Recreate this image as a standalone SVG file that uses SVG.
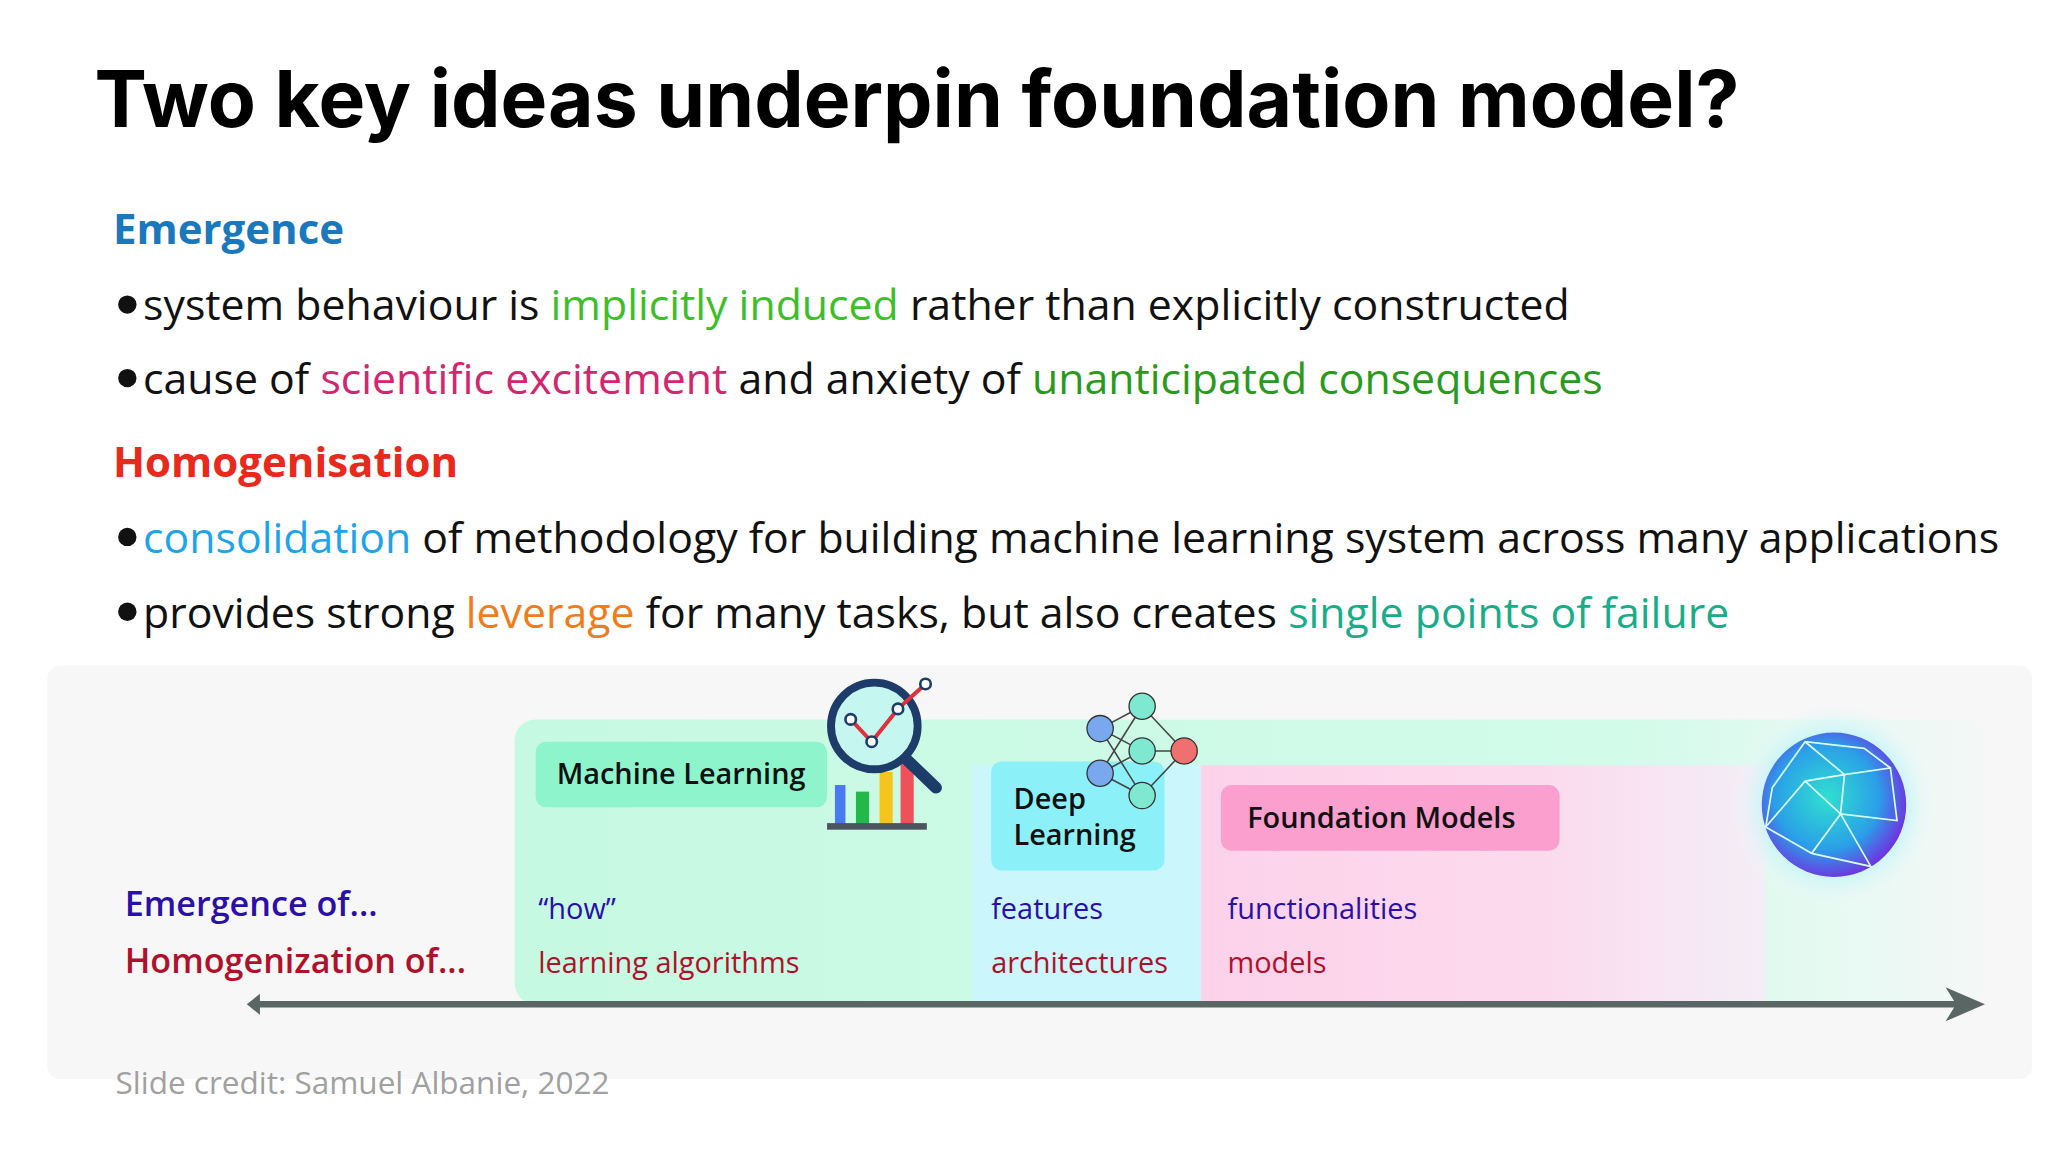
<svg xmlns="http://www.w3.org/2000/svg" width="2048" height="1152" viewBox="0 0 2048 1152">
<style>
.b{font-family:"Open Sans","Noto Sans",sans-serif;font-size:32.6px;fill:#111}
.p{font-family:"Open Sans","Noto Sans",sans-serif;font-size:24px}
.h{font-family:"Open Sans","Noto Sans",sans-serif;font-size:32px;font-weight:bold}
.lb{font-family:"Open Sans","Noto Sans",sans-serif;font-size:22px;font-weight:600;fill:#111}
</style>
<defs>
<linearGradient id="gg" x1="0" x2="1"><stop offset="0" stop-color="#c6f9e2"/><stop offset="0.75" stop-color="#d2fbea"/><stop offset="1" stop-color="#f4f8f7"/></linearGradient>
<linearGradient id="pg" x1="0" x2="1"><stop offset="0" stop-color="#fcd2ea"/><stop offset="0.6" stop-color="#fcdaee"/><stop offset="1" stop-color="#f3eef6"/></linearGradient>
<linearGradient id="cg" x1="0" x2="1"><stop offset="0" stop-color="#cbf6fb"/><stop offset="0.8" stop-color="#cbf6fb"/><stop offset="1" stop-color="#d6f8f0"/></linearGradient>
<radialGradient id="gl" cx="0.45" cy="0.45" r="0.6"><stop offset="0" stop-color="#30e0d0"/><stop offset="0.6" stop-color="#2a9fe8"/><stop offset="1" stop-color="#7a22e0"/></radialGradient>
<radialGradient id="halo"><stop offset="0.6" stop-color="#b8f4fa"/><stop offset="1" stop-color="#f7f7f7" stop-opacity="0"/></radialGradient>
</defs>
<rect width="2048" height="1152" fill="#fff"/>
<g transform="scale(1.3128)">
<g id="title"><text x="72" y="97" font-family="Inter,'Liberation Sans',sans-serif" font-weight="bold" font-size="60" textLength="1253" lengthAdjust="spacingAndGlyphs" fill="#000">Two key ideas underpin foundation model?</text></g>
<g id="bullets">
<text x="86" y="186" class="h" fill="#1a78bd">Emergence</text>
<circle cx="97" cy="232" r="7" fill="#111"/><circle cx="97" cy="288" r="7" fill="#111"/><circle cx="97" cy="409" r="7" fill="#111"/><circle cx="97" cy="466" r="7" fill="#111"/>
<text x="109" y="244" class="b">system behaviour is <tspan fill="#3cbf2a">implicitly induced</tspan> rather than explicitly constructed</text>
<text x="109" y="300" class="b">cause of <tspan fill="#d4266e">scientific excitement</tspan> and anxiety of <tspan fill="#2a9a1c">unanticipated consequences</tspan></text>
<text x="86" y="363" class="h" fill="#e8291c">Homogenisation</text>
<text x="109" y="421" class="b"><tspan fill="#1ea4ea">consolidation</tspan> of methodology for building machine learning system across many applications</text>
<text x="109" y="478" class="b">provides strong <tspan fill="#f07d1a">leverage</tspan> for many tasks, but also creates <tspan fill="#18ad8a">single points of failure</tspan></text>
</g>
<g id="panel">
<rect x="36" y="507" width="1512" height="315" rx="10" fill="#f7f7f7"/>
<rect x="392" y="548" width="1120" height="217" rx="16" fill="url(#gg)"/>
<rect x="740" y="583" width="605" height="182" fill="url(#cg)"/>
<rect x="915" y="583" width="430" height="182" fill="url(#pg)"/>
</g>
<g id="ml"><rect x="408" y="565" width="222" height="50" rx="8" fill="#8ef4cc"/><text x="424" y="597" class="lb">Machine Learning</text>
<rect x="636" y="598" width="8" height="30" fill="#4a7af0"/><rect x="652" y="603" width="10" height="25" fill="#22b84a"/><rect x="670" y="588" width="10" height="40" fill="#f6c51c"/><rect x="686" y="582" width="10" height="46" fill="#f0505a"/><rect x="630" y="627" width="76" height="5" fill="#4a5560"/>
<line x1="690" y1="578" x2="713" y2="600" stroke="#1d3c6a" stroke-width="9" stroke-linecap="round"/>
<circle cx="666" cy="553" r="33" fill="#c6f6f0" stroke="#1d3c6a" stroke-width="6"/>
<polyline points="648,548 664,565 684,540 705,521" fill="none" stroke="#e0303a" stroke-width="3"/>
<circle cx="648" cy="548" r="4" fill="#fff" stroke="#1d3c6a" stroke-width="2"/><circle cx="664" cy="565" r="4" fill="#fff" stroke="#1d3c6a" stroke-width="2"/><circle cx="684" cy="540" r="4" fill="#fff" stroke="#1d3c6a" stroke-width="2"/><circle cx="705" cy="521" r="4" fill="#fff" stroke="#1d3c6a" stroke-width="2"/></g>
<g id="dl"><rect x="755" y="580" width="132" height="83" rx="8" fill="#8cf0f8"/><text x="772" y="616" class="lb">Deep</text><text x="772" y="644" class="lb">Learning</text>
<g stroke="#444" stroke-width="1.2"><line x1="838" y1="555" x2="870" y2="538"/><line x1="838" y1="555" x2="870" y2="572"/><line x1="838" y1="589" x2="870" y2="572"/><line x1="838" y1="589" x2="870" y2="606"/><line x1="838" y1="555" x2="870" y2="606"/><line x1="838" y1="589" x2="870" y2="538"/><line x1="870" y1="538" x2="902" y2="572"/><line x1="870" y1="572" x2="902" y2="572"/><line x1="870" y1="606" x2="902" y2="572"/></g>
<circle cx="838" cy="555" r="10" fill="#7aa8ee" stroke="#333"/><circle cx="838" cy="589" r="10" fill="#7aa8ee" stroke="#333"/><circle cx="870" cy="538" r="10" fill="#7ee8d0" stroke="#333"/><circle cx="870" cy="572" r="10" fill="#7ee8d0" stroke="#333"/><circle cx="870" cy="606" r="10" fill="#7ee8d0" stroke="#333"/><circle cx="902" cy="572" r="10" fill="#f07070" stroke="#333"/></g>
<g id="fm"><rect x="930" y="598" width="258" height="50" rx="8" fill="#fa9fce"/><text x="950" y="631" class="lb">Foundation Models</text></g>
<g id="globe"><circle cx="1397" cy="613" r="80" fill="url(#halo)"/><circle cx="1397" cy="613" r="55" fill="url(#gl)"/>
<g stroke="#d8fff4" stroke-width="1.3" fill="none"><polyline points="1375,565 1405,590 1440,585 1445,625 1402,620 1380,650 1345,630 1375,595 1405,590 1402,620 1425,660 1380,650"/><polyline points="1345,630 1350,600 1375,565 1420,570 1440,585"/><line x1="1375" y1="595" x2="1402" y2="620"/></g></g>
<g id="labels">
<text x="95" y="698" font-family="'Open Sans',sans-serif" font-size="26" font-weight="600" fill="#2a10a8">Emergence of...</text>
<text x="95" y="741" font-family="'Open Sans',sans-serif" font-size="26" font-weight="600" fill="#b0112a">Homogenization of...</text>
<g font-family="'Open Sans',sans-serif" font-size="22"><text x="410" y="700" fill="#2a10a8">“how”</text><text x="755" y="700" fill="#2a10a8">features</text><text x="935" y="700" fill="#2a10a8">functionalities</text>
<text x="410" y="741" fill="#b0112a">learning algorithms</text><text x="755" y="741" fill="#b0112a">architectures</text><text x="935" y="741" fill="#b0112a">models</text></g>
</g>
<g id="connectors"><line x1="196" y1="765" x2="1492" y2="765" stroke="#5a6664" stroke-width="5"/><polygon points="188,765 198,757 198,773" fill="#5a6664"/><polygon points="1512,765 1482,752 1490,765 1482,778" fill="#5a6664"/></g>
<text x="88" y="833" class="p" fill="#a0a0a0">Slide credit: Samuel Albanie, 2022</text>
</g>
</svg>
